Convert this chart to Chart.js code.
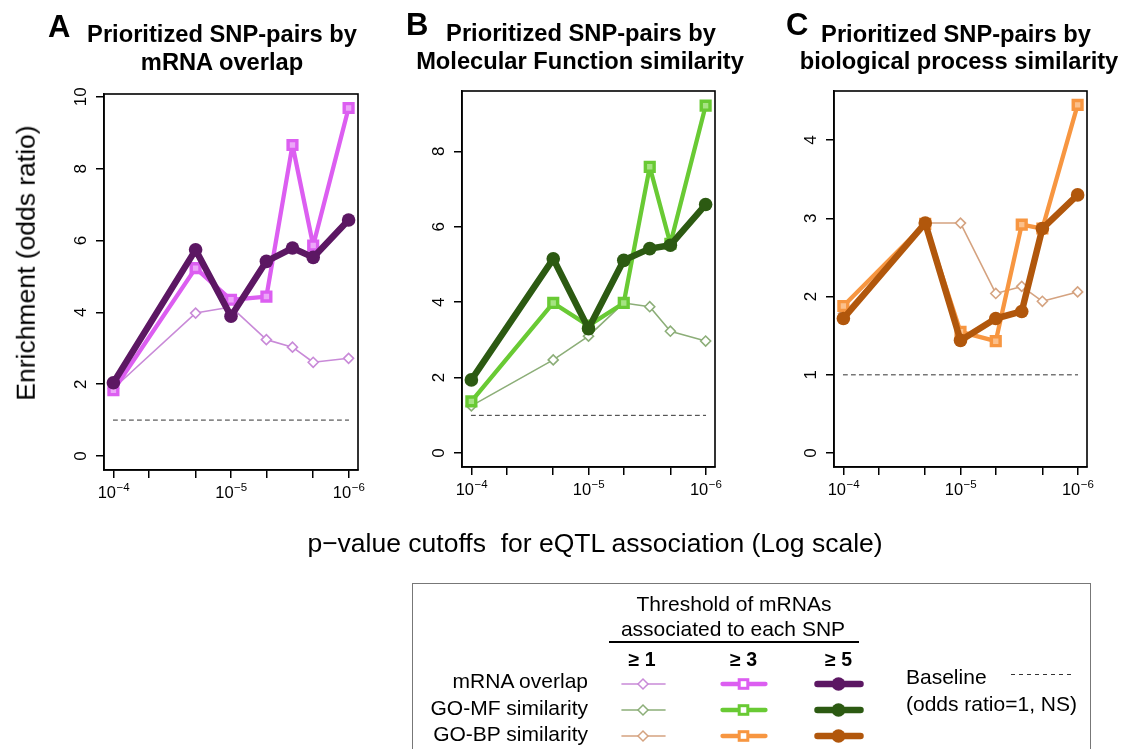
<!DOCTYPE html>
<html><head><meta charset="utf-8">
<script src="https://cdn.jsdelivr.net/npm/chart.js@4.4.0/dist/chart.umd.min.js"></script>
<style>
html,body{margin:0;padding:0;background:#fff}
body{width:1124px;height:749px;overflow:hidden;position:relative;font-family:"Liberation Sans",Arial,Helvetica,sans-serif}
canvas.panel{position:absolute;left:0;top:0}
.t{position:absolute;white-space:pre;color:#000}
</style></head><body>
<canvas id="cA" class="panel" width="1124" height="749"></canvas>
<canvas id="cB" class="panel" width="1124" height="749"></canvas>
<canvas id="cC" class="panel" width="1124" height="749"></canvas>
<script>
// ---- data ----
const pCutoffs = [1e-4, 2e-5, 1e-5, 5e-6, 3e-6, 2e-6, 1e-6];
const xTickValues = [1e-4, 5e-5, 2e-5, 1e-5, 5e-6, 2e-6, 1e-6];
const xLabelExponents = [-4, -5, -6];
const thresholds = ['\u2265 1', '\u2265 3', '\u2265 5'];
const measures = ['mRNA overlap', 'GO-MF similarity', 'GO-BP similarity'];

const mrnaGe1 = [1.88, 3.98, 4.15, 3.24, 3.03, 2.61, 2.72];
const mrnaGe3 = [1.83, 5.23, 4.35, 4.44, 8.66, 5.86, 9.69];
const mrnaGe5 = [2.04, 5.74, 3.89, 5.42, 5.79, 5.53, 6.57];

const mfGe1 = [1.25, 2.47, 3.10, 3.98, 3.88, 3.23, 2.97];
const mfGe3 = [1.37, 3.98, 3.38, 3.98, 7.59, 5.55, 9.21];
const mfGe5 = [1.94, 5.15, 3.30, 5.11, 5.42, 5.51, 6.59];

const bpGe1 = [1.78, 2.94, 2.94, 2.04, 2.13, 1.94, 2.06];
const bpGe3 = [1.88, 2.93, 1.55, 1.43, 2.92, 2.87, 4.45];
const bpGe5 = [1.72, 2.94, 1.44, 1.72, 1.81, 2.87, 3.30];

const baselineOR = 1;
const yTicksA = [0, 2, 4, 6, 8, 10];
const yTicksB = [0, 2, 4, 6, 8];
const yTicksC = [0, 1, 2, 3, 4];

const colorsA = ['#c98ad8', '#dc5ef1', '#5c1763'];
const colorsB = ['#8cae78', '#69ca34', '#2c5a12'];
const colorsC = ['#d5a380', '#f79641', '#b1570c'];
const squareFill = ['#eca6f8', '#a6e383', '#fbc08c'];

const FONT = '"Liberation Sans", Arial, Helvetica, sans-serif';
const TICK = 8;

const panels = [
  {id:'cA', box:{l:104, r:358, t:94, b:470}, yr:[-0.39, 10.08], yTicks:yTicksA, s:[mrnaGe1, mrnaGe3, mrnaGe5], c:colorsA, f:squareFill[0]},
  {id:'cB', box:{l:462, r:715, t:91, b:467}, yr:[-0.37, 9.60], yTicks:yTicksB, s:[mfGe1, mfGe3, mfGe5], c:colorsB, f:squareFill[1]},
  {id:'cC', box:{l:834, r:1087, t:91, b:467}, yr:[-0.178, 4.628], yTicks:yTicksC, s:[bpGe1, bpGe3, bpGe5], c:colorsC, f:squareFill[2]}
];

const frame = {
  id: 'frame',
  afterDraw(chart) {
    const {ctx, chartArea: a, scales: {x, y}} = chart;
    ctx.save();
    ctx.strokeStyle = '#000'; ctx.lineWidth = 1.6;
    ctx.strokeRect(a.left, a.top, a.right - a.left, a.bottom - a.top);
    ctx.fillStyle = '#000';
    xLabelExponents.forEach(e => {
      const px = x.getPixelForValue(Math.pow(10, e));
      const base = '10', sup = '\u2212' + Math.abs(e);
      ctx.font = '16.5px ' + FONT; const w1 = ctx.measureText(base).width;
      ctx.font = '11.5px ' + FONT; const w2 = ctx.measureText(sup).width;
      const x0 = px - (w1 + w2) / 2;
      ctx.textAlign = 'left'; ctx.textBaseline = 'alphabetic';
      ctx.font = '16.5px ' + FONT; ctx.fillText(base, x0, a.bottom + 28);
      ctx.font = '11.5px ' + FONT; ctx.fillText(sup, x0 + w1 + 0.5, a.bottom + 21);
    });
    y.ticks.forEach(t => {
      const py = y.getPixelForValue(t.value);
      ctx.save();
      ctx.translate(a.left - 18, py);
      ctx.rotate(-Math.PI / 2);
      ctx.textAlign = 'center'; ctx.textBaseline = 'alphabetic';
      ctx.font = '17px ' + FONT;
      ctx.fillText(String(t.value), 0, 0);
      ctx.restore();
    });
    ctx.restore();
  }
};

function pts(vals) { return pCutoffs.map((p, i) => ({x: p, y: vals[i]})); }

panels.forEach(P => {
  const [c1, c3, c5] = P.c;
  const datasets = [
    {data: pts(P.s[2]), borderColor: c5, backgroundColor: c5, borderWidth: 6.5,
     pointStyle: 'circle', pointRadius: 6.8, pointBorderWidth: 0, pointBackgroundColor: c5},
    {data: pts(P.s[1]), borderColor: c3, backgroundColor: P.f, borderWidth: 4.3,
     pointStyle: 'rect', pointRadius: 6.2, pointBorderWidth: 3.4, pointBorderColor: c3, pointBackgroundColor: P.f},
    {data: pts(P.s[0]), borderColor: c1, backgroundColor: '#fff', borderWidth: 1.6,
     pointStyle: 'rectRot', pointRadius: 5, pointBorderWidth: 1.6, pointBorderColor: c1, pointBackgroundColor: '#fff'},
    {data: [{x: pCutoffs[0], y: baselineOR}, {x: pCutoffs[pCutoffs.length - 1], y: baselineOR}],
     borderColor: '#333', borderWidth: 1, borderDash: [4, 4], pointRadius: 0}
  ];
  datasets.forEach(d => { d.borderCapStyle = 'round'; d.borderJoinStyle = 'round'; d.tension = 0; d.fill = false; });
  new Chart(document.getElementById(P.id), {
    type: 'line',
    data: {datasets},
    options: {
      responsive: false, animation: false, devicePixelRatio: 1,
      layout: {autoPadding: false, padding: {left: P.box.l - TICK, right: 1124 - P.box.r, top: P.box.t, bottom: 749 - P.box.b - TICK}},
      plugins: {legend: {display: false}, title: {display: false}, tooltip: {enabled: false}},
      events: [],
      scales: {
        x: {type: 'logarithmic', reverse: true, min: Math.pow(10, -6.08), max: Math.pow(10, -3.92),
            afterBuildTicks: s => { s.ticks = xTickValues.map(v => ({value: v})); },
            afterFit: s => { s.height = TICK; },
            ticks: {display: false},
            grid: {display: true, drawOnChartArea: false, drawTicks: true, tickLength: TICK, color: '#000', lineWidth: 1.5},
            border: {display: true, color: '#000', width: 1.5}},
        y: {type: 'linear', min: P.yr[0], max: P.yr[1],
            afterBuildTicks: s => { s.ticks = P.yTicks.map(v => ({value: v})); },
            afterFit: s => { s.width = TICK; },
            ticks: {display: false},
            grid: {display: true, drawOnChartArea: false, drawTicks: true, tickLength: TICK, color: '#000', lineWidth: 1.5},
            border: {display: true, color: '#000', width: 1.5}}
      }
    },
    plugins: [frame]
  });
});

// ---- text ----
function addText(txt, x, y, o = {}) {
  const d = document.createElement('div');
  d.className = 't'; d.textContent = txt;
  const fs = o.size || 20;
  d.style.fontSize = fs + 'px'; d.style.lineHeight = fs + 'px';
  if (o.bold) d.style.fontWeight = 'bold';
  d.style.left = x + 'px'; d.style.top = y + 'px';
  const tx = o.align === 'center' ? '-50%' : o.align === 'right' ? '-100%' : '0';
  d.style.transform = o.rotate ? `translate(-50%,-50%) rotate(${o.rotate}deg)` : `translate(${tx},-50%)`;
  document.body.appendChild(d);
  return d;
}
addText('A', 48, 26, {size: 31, bold: true});
addText('B', 406, 24, {size: 31, bold: true});
addText('C', 786, 24, {size: 31, bold: true});
addText('Prioritized SNP-pairs by', 222, 35, {size: 23.7, bold: true, align: 'center'});
addText('mRNA overlap', 222, 63, {size: 23.7, bold: true, align: 'center'});
addText('Prioritized SNP-pairs by', 581, 34, {size: 23.7, bold: true, align: 'center'});
addText('Molecular Function similarity', 580, 62, {size: 23.7, bold: true, align: 'center'});
addText('Prioritized SNP-pairs by', 956, 35, {size: 23.7, bold: true, align: 'center'});
addText('biological process similarity', 959, 62, {size: 23.7, bold: true, align: 'center'});
addText('Enrichment (odds ratio)', 26, 263, {size: 26.5, rotate: -90});
addText('p\u2212value cutoffs  for eQTL association (Log scale)', 595, 543, {size: 26.5, align: 'center'});

// ---- legend ----
const lg = document.createElement('div');
lg.style.cssText = 'position:absolute;left:412px;top:583px;width:679px;height:200px;border:1.5px solid #777;box-sizing:border-box';
document.body.appendChild(lg);
addText('Threshold of mRNAs', 734, 603, {size: 21, align: 'center'});
addText('associated to each SNP', 733, 628, {size: 21, align: 'center'});
const ul = document.createElement('div');
ul.style.cssText = 'position:absolute;left:609px;top:641px;width:250px;height:1.5px;background:#000';
document.body.appendChild(ul);
const colX = [642, 743.5, 838.5];
const rowY = [680, 706.5, 733];
const symY = [684, 710, 736];
thresholds.forEach((t, i) => addText(t, colX[i], 660, {size: 19.5, bold: true, align: 'center'}));
measures.forEach((m, i) => addText(m, 588, rowY[i], {size: 21, align: 'right'}));
addText('Baseline', 906, 676, {size: 21});
addText('(odds ratio=1, NS)', 906, 703, {size: 21});

const NS = 'http://www.w3.org/2000/svg';
const svg = document.createElementNS(NS, 'svg');
svg.setAttribute('width', 1124); svg.setAttribute('height', 749);
svg.style.cssText = 'position:absolute;left:0;top:0';
document.body.appendChild(svg);
function el(tag, attrs) { const e = document.createElementNS(NS, tag); for (const k in attrs) e.setAttribute(k, attrs[k]); svg.appendChild(e); return e; }
const allColors = [colorsA, colorsB, colorsC];
const lineW = [1.6, 4.3, 6.5];
allColors.forEach((cols, r) => {
  const y = symY[r];
  cols.forEach((col, k) => {
    const cx = colX[k] + (k === 0 ? 1 : 0);
    el('line', {x1: cx - 21, x2: cx + 22, y1: y, y2: y, stroke: col, 'stroke-width': lineW[k], 'stroke-linecap': 'round'});
    if (k === 0) el('polygon', {points: `${cx-5},${y} ${cx},${y-5} ${cx+5},${y} ${cx},${y+5}`, fill: '#fff', stroke: col, 'stroke-width': 1.5});
    if (k === 1) el('rect', {x: cx - 4.3, y: y - 4.3, width: 8.6, height: 8.6, fill: '#fff', stroke: col, 'stroke-width': 3});
    if (k === 2) el('circle', {cx: cx, cy: y, r: 6.8, fill: col});
  });
});
el('line', {x1: 1011, x2: 1075, y1: 674.5, y2: 674.5, stroke: '#333', 'stroke-width': 1, 'stroke-dasharray': '4 4'});
</script>
</body></html>
